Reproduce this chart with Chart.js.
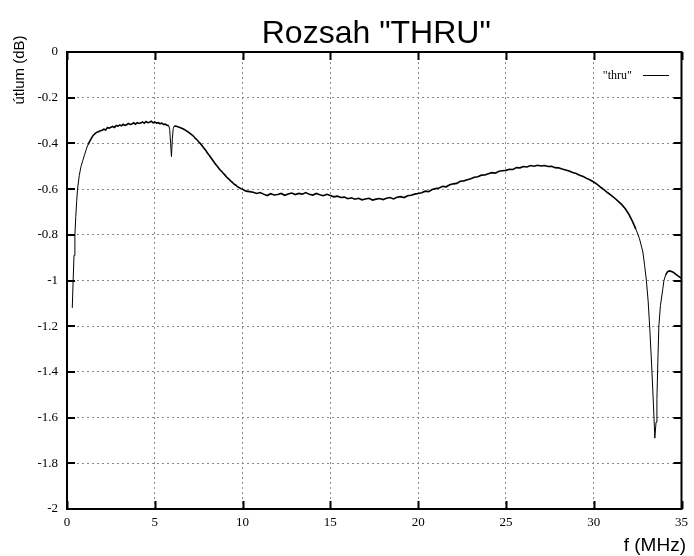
<!DOCTYPE html>
<html><head><meta charset="utf-8">
<script src="https://cdn.jsdelivr.net/npm/chart.js@4/dist/chart.umd.min.js"></script>
<style>html,body{margin:0;padding:0;background:#fff}#wrap{width:694px;height:556px}</style>
</head><body><div id="wrap"><canvas id="c" width="694" height="556"></canvas></div>
<script>
const chartTitle = 'Rozsah "THRU"';
const xAxisLabel = 'f (MHz)';
const yAxisLabel = 'útlum (dB)';
const seriesName = '"thru"';
const xTickValues = [0, 5, 10, 15, 20, 25, 30, 35];
const yTickValues = [0, -0.2, -0.4, -0.6, -0.8, -1, -1.2, -1.4, -1.6, -1.8, -2];

const freqMHz = [
0.30,0.35,0.40,0.45,0.50,0.55,0.60,0.70,0.80,0.90,1.00,1.10,1.20,1.30,1.40,1.50,1.60,1.70,1.80,1.90,
2.00,2.10,2.20,2.30,2.40,2.50,2.60,2.70,2.80,2.90,3.00,3.10,3.20,3.30,3.40,3.50,3.60,3.70,3.80,3.90,
4.00,4.10,4.20,4.30,4.40,4.50,4.60,4.70,4.80,4.90,5.00,5.10,5.20,5.30,5.40,5.50,5.60,5.70,5.80,5.85,
5.90,5.95,6.00,6.05,6.10,6.20,6.30,6.40,6.50,6.60,6.70,6.80,6.90,7.00,7.10,7.20,7.30,7.40,7.50,7.60,
7.70,7.80,7.90,8.00,8.10,8.20,8.30,8.40,8.50,8.60,8.70,8.80,8.90,9.00,9.10,9.20,9.30,9.40,9.50,9.60,
9.70,9.80,9.90,10.0,10.2,10.4,10.6,10.8,11.0,11.2,11.4,11.6,11.8,12.0,12.2,12.4,12.6,12.8,13.0,13.2,
13.4,13.6,13.8,14.0,14.2,14.4,14.6,14.8,15.0,15.2,15.4,15.6,15.8,16.0,16.2,16.4,16.6,16.8,17.0,17.2,
17.4,17.6,17.8,18.0,18.2,18.4,18.6,18.8,19.0,19.2,19.4,19.6,19.8,20.0,20.2,20.4,20.6,20.8,21.0,21.2,
21.4,21.6,21.8,22.0,22.2,22.4,22.6,22.8,23.0,23.2,23.4,23.6,23.8,24.0,24.2,24.4,24.6,24.8,25.0,25.2,
25.4,25.6,25.8,26.0,26.2,26.4,26.6,26.8,27.0,27.2,27.4,27.6,27.8,28.0,28.2,28.4,28.6,28.8,29.0,29.2,
29.4,29.6,29.8,30.0,30.2,30.4,30.6,30.8,31.0,31.2,31.4,31.6,31.8,32.0,32.2,32.4,32.6,32.8,32.9,33.0,
33.1,33.2,33.3,33.4,33.48,33.55,33.6,33.65,33.71,33.8,33.93,34.0,34.1,34.2,34.3,34.4,34.5,34.6,34.7,34.8,
34.9,35.0
];

const attenDb = [
-1.120,-1.000,-0.890,-0.800,-0.720,-0.655,-0.600,-0.540,-0.500,-0.475,-0.450,-0.425,-0.405,-0.390,-0.376,-0.364,-0.357,-0.351,-0.349,-0.345,
-0.342,-0.338,-0.341,-0.331,-0.333,-0.329,-0.326,-0.330,-0.322,-0.324,-0.320,-0.323,-0.316,-0.321,-0.318,-0.313,-0.317,-0.315,-0.310,-0.316,
-0.309,-0.313,-0.311,-0.306,-0.312,-0.304,-0.309,-0.307,-0.303,-0.310,-0.306,-0.311,-0.309,-0.314,-0.311,-0.317,-0.316,-0.321,-0.323,-0.340,
-0.400,-0.458,-0.380,-0.335,-0.325,-0.324,-0.327,-0.329,-0.333,-0.336,-0.340,-0.345,-0.350,-0.356,-0.362,-0.368,-0.377,-0.384,-0.393,-0.401,
-0.410,-0.421,-0.430,-0.442,-0.452,-0.463,-0.474,-0.485,-0.495,-0.504,-0.514,-0.522,-0.531,-0.539,-0.548,-0.555,-0.563,-0.569,-0.577,-0.582,
-0.589,-0.593,-0.598,-0.601,-0.609,-0.611,-0.614,-0.619,-0.615,-0.622,-0.628,-0.620,-0.626,-0.624,-0.619,-0.627,-0.621,-0.617,-0.624,-0.619,
-0.622,-0.615,-0.623,-0.626,-0.619,-0.625,-0.629,-0.623,-0.628,-0.634,-0.631,-0.637,-0.635,-0.642,-0.638,-0.644,-0.640,-0.647,-0.643,-0.640,
-0.648,-0.644,-0.641,-0.646,-0.640,-0.637,-0.643,-0.636,-0.633,-0.637,-0.629,-0.627,-0.622,-0.619,-0.616,-0.609,-0.611,-0.602,-0.598,-0.595,
-0.588,-0.590,-0.581,-0.577,-0.575,-0.566,-0.564,-0.559,-0.555,-0.548,-0.546,-0.539,-0.538,-0.533,-0.528,-0.530,-0.522,-0.520,-0.518,-0.513,
-0.514,-0.506,-0.507,-0.501,-0.503,-0.497,-0.500,-0.496,-0.499,-0.497,-0.501,-0.500,-0.506,-0.507,-0.512,-0.516,-0.521,-0.527,-0.532,-0.539,
-0.545,-0.553,-0.560,-0.569,-0.579,-0.592,-0.603,-0.616,-0.627,-0.640,-0.654,-0.668,-0.686,-0.710,-0.740,-0.775,-0.815,-0.875,-0.935,-1.000,
-1.090,-1.220,-1.370,-1.540,-1.690,-1.620,-1.520,-1.360,-1.200,-1.110,-1.040,-1.000,-0.975,-0.962,-0.958,-0.960,-0.963,-0.968,-0.974,-0.980,
-0.985,-0.990
];

const points = freqMHz.map((f, i) => ({ x: f, y: attenDb[i] }));

const framePlugin = {
  id: 'frame',
  afterDraw(chart) {
    const { ctx, chartArea: a, scales } = chart;
    const xs = scales.x, ys = scales.y;
    ctx.save();
    ctx.strokeStyle = '#000';
    ctx.lineWidth = 2;
    ctx.strokeRect(a.left, a.top, a.right - a.left, a.bottom - a.top);
    const tl = 8;
    ctx.beginPath();
    xTickValues.forEach(v => {
      const px = Math.round(xs.getPixelForValue(v)) + 0.5;
      ctx.moveTo(px, a.bottom); ctx.lineTo(px, a.bottom - tl);
      ctx.moveTo(px, a.top); ctx.lineTo(px, a.top + tl);
    });
    yTickValues.forEach(v => {
      const py = Math.round(ys.getPixelForValue(v));
      ctx.moveTo(a.left, py); ctx.lineTo(a.left + tl, py);
      ctx.moveTo(a.right, py); ctx.lineTo(a.right - tl, py);
    });
    ctx.stroke();
    // legend
    ctx.fillStyle = '#000';
    ctx.font = '12px "Liberation Serif"';
    ctx.textAlign = 'right';
    ctx.textBaseline = 'middle';
    ctx.fillText(seriesName, 632, 76);
    ctx.lineWidth = 1;
    ctx.beginPath();
    ctx.moveTo(643, 75.5); ctx.lineTo(669, 75.5);
    ctx.stroke();
    // title
    ctx.font = '32px "Liberation Sans"';
    ctx.textAlign = 'center';
    ctx.textBaseline = 'alphabetic';
    ctx.fillText(chartTitle, (a.left + a.right) / 2 + 2, 43);
    // x axis label
    ctx.font = '19px "Liberation Sans"';
    ctx.textAlign = 'right';
    ctx.fillText(xAxisLabel, 686, 551);
    // y axis label
    ctx.translate(24, 70);
    ctx.rotate(-Math.PI / 2);
    ctx.font = '15px "Liberation Sans"';
    ctx.textAlign = 'center';
    ctx.textBaseline = 'alphabetic';
    ctx.fillText(yAxisLabel, 0, 0);
    ctx.restore();
  }
};

new Chart(document.getElementById('c'), {
  type: 'line',
  data: {
    datasets: [{
      label: seriesName,
      data: points,
      borderColor: '#000',
      borderWidth: 1.5,
      pointRadius: 0,
      tension: 0,
      fill: false,
      segment: {
        borderWidth: c => {
          const dx = Math.abs(c.p1.x - c.p0.x), dy = Math.abs(c.p1.y - c.p0.y);
          return dy > 2.5 * dx ? 1 : 1.6;
        }
      }
    }]
  },
  options: {
    responsive: false,
    animation: false,
    devicePixelRatio: 1,
    layout: { padding: { top: 52, right: 8, left: 0, bottom: 0 } },
    plugins: { legend: { display: false }, title: { display: false }, tooltip: { enabled: false } },
    scales: {
      x: {
        type: 'linear', min: 0, max: 35,
        afterBuildTicks(s) { s.ticks = xTickValues.map(v => ({ value: v })); },
        afterFit(s) { s.height = 47; },
        ticks: { color: '#000', font: { family: 'Liberation Serif', size: 13 }, padding: 6, maxRotation: 0,
                 callback: v => String(v) },
        grid: { color: '#8a8a8a', lineWidth: 1, drawTicks: false },
        border: { display: false, dash: [2, 3] }
      },
      y: {
        type: 'linear', min: -2, max: 0,
        afterBuildTicks(s) { s.ticks = yTickValues.map(v => ({ value: v })); },
        afterFit(s) { s.width = 67; },
        ticks: { color: '#000', font: { family: 'Liberation Serif', size: 13 }, padding: 9,
                 callback: v => String(Math.round(v * 10) / 10) },
        grid: { color: '#8a8a8a', lineWidth: 1, drawTicks: false },
        border: { display: false, dash: [2, 3] }
      }
    }
  },
  plugins: [framePlugin]
});
</script>
</body></html>
